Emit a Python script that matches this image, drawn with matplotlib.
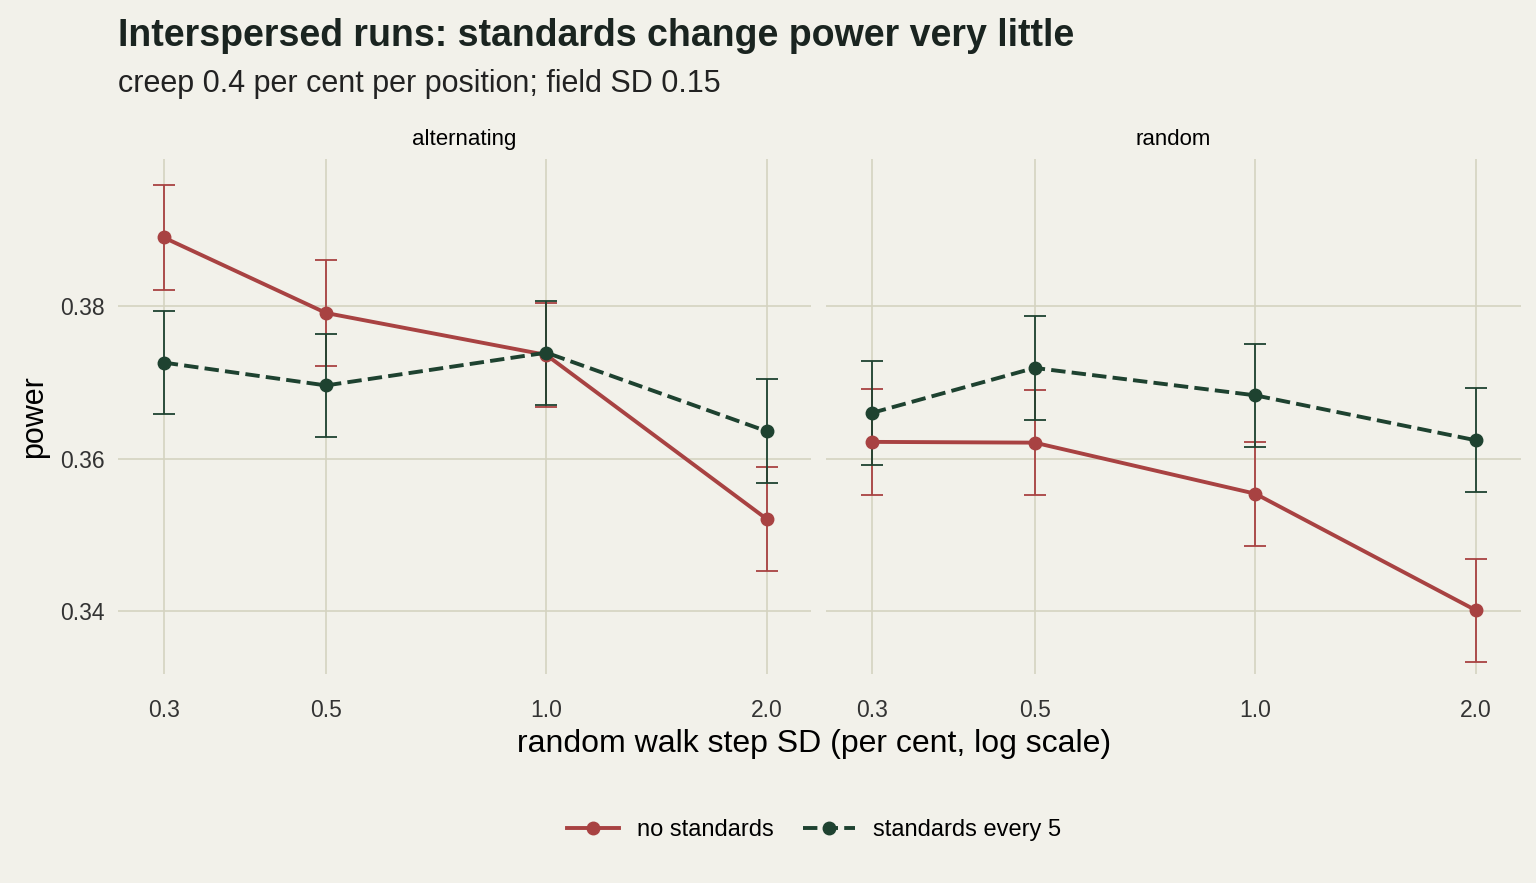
import numpy as np
import matplotlib.pyplot as plt
from matplotlib.ticker import FixedLocator, NullLocator
from matplotlib.lines import Line2D

plt.rcParams['font.family'] = ['Liberation Sans', 'DejaVu Sans']

# data
steps = [0.3, 0.5, 1.0, 2.0]
panels = ['alternating', 'random']
none_alt = [0.3890, 0.3791, 0.3736, 0.3521]
none_rnd = [0.3622, 0.3621, 0.3554, 0.3401]
std_alt = [0.3726, 0.3696, 0.3739, 0.3636]
std_rnd = [0.3660, 0.3719, 0.3683, 0.3624]
err_none = [0.0069, 0.0069, 0.0068, 0.0068]
err_std = [0.0068, 0.0068, 0.0068, 0.0068]

bg = '#F2F1EA'
grid = '#D5D3C0'
red = '#A84242'
green = '#1E4230'

fig = plt.figure(figsize=(15.36, 8.83), dpi=100, facecolor=bg)
axes = [fig.add_axes([0.077, 0.237, 0.451, 0.583]),
        fig.add_axes([0.538, 0.237, 0.452, 0.583])]

series = {'alternating': (none_alt, std_alt), 'random': (none_rnd, std_rnd)}
for ax, name in zip(axes, panels):
    ax.set_facecolor(bg)
    nv, sv = series[name]
    ax.set_xscale('log')
    ax.errorbar(steps, nv, yerr=err_none, color=red, lw=2.8, marker='o', ms=9,
                capsize=8, elinewidth=1.3, capthick=1.3, zorder=3)
    ax.errorbar(steps, sv, yerr=err_std, color=green, lw=2.8, ls='--', marker='o', ms=9,
                capsize=8, elinewidth=1.3, capthick=1.3, zorder=3)
    ax.set_xlim(0.26, 2.3)
    ax.set_ylim(0.3318, 0.3993)
    ax.xaxis.set_major_locator(FixedLocator(steps))
    ax.xaxis.set_minor_locator(NullLocator())
    ax.set_xticklabels(['0.3', '0.5', '1.0', '2.0'])
    ax.set_yticks([0.34, 0.36, 0.38])
    ax.grid(True, color=grid, lw=1.2)
    ax.set_axisbelow(True)
    for s in ax.spines.values():
        s.set_visible(False)
    ax.tick_params(length=0, labelsize=16.5, colors='#333333')
    ax.tick_params(axis='x', pad=18)
    ax.tick_params(axis='y', pad=10)
    ax.set_title(name, fontsize=16, pad=10)

axes[0].set_yticklabels(['0.34', '0.36', '0.38'])
axes[1].set_yticklabels([])
axes[0].set_ylabel('power', fontsize=22, labelpad=8)
fig.text(0.53, 0.148, 'random walk step SD (per cent, log scale)', ha='center', fontsize=23)

fig.text(0.077, 0.948, 'Interspersed runs: standards change power very little',
         fontsize=27, fontweight='bold', color='#1a2420')
fig.text(0.077, 0.896, 'creep 0.4 per cent per position; field SD 0.15', fontsize=22, color='#222222')

h = [Line2D([], [], color=red, lw=2.8, marker='o', ms=9),
     Line2D([], [], color=green, lw=2.8, ls='--', marker='o', ms=9)]
fig.legend(h, ['no standards', 'standards every 5'], loc='center',
           bbox_to_anchor=(0.53, 0.06), ncol=2, frameon=False,
           fontsize=17, handlelength=2.2, columnspacing=1.2)

fig.savefig('out.png', dpi=100, facecolor=bg)
